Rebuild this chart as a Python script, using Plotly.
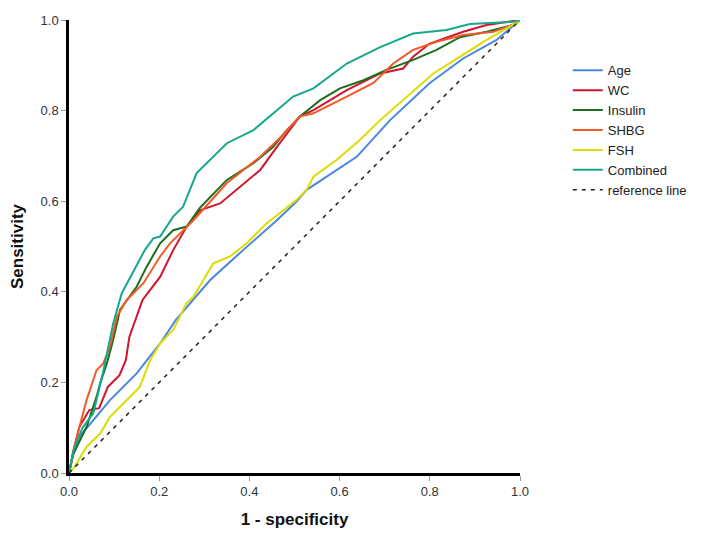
import plotly.graph_objects as go

# ROC curve points (1 - specificity, sensitivity)
age_x = [0.0, 0.008, 0.023, 0.091, 0.15, 0.202, 0.237, 0.313, 0.386, 0.461, 0.505, 0.527, 0.638, 0.712, 0.8, 0.874, 0.948, 1.0]
age_y = [0.0, 0.036, 0.08, 0.161, 0.22, 0.286, 0.338, 0.426, 0.492, 0.558, 0.6, 0.625, 0.698, 0.779, 0.861, 0.915, 0.956, 1.0]

wc_x = [0.0, 0.01, 0.023, 0.045, 0.067, 0.086, 0.112, 0.126, 0.134, 0.149, 0.163, 0.202, 0.231, 0.261, 0.29, 0.335, 0.379, 0.424, 0.461, 0.512, 0.542, 0.616, 0.69, 0.741, 0.763, 0.8, 0.874, 0.926, 1.0]
wc_y = [0.0, 0.05, 0.102, 0.139, 0.143, 0.19, 0.216, 0.249, 0.301, 0.345, 0.382, 0.433, 0.492, 0.544, 0.58, 0.595, 0.632, 0.669, 0.72, 0.787, 0.801, 0.845, 0.882, 0.893, 0.919, 0.948, 0.974, 0.989, 1.0]

insulin_x = [0.0, 0.01, 0.039, 0.061, 0.069, 0.084, 0.098, 0.113, 0.15, 0.172, 0.202, 0.231, 0.261, 0.29, 0.35, 0.409, 0.453, 0.483, 0.512, 0.557, 0.601, 0.653, 0.704, 0.763, 0.815, 0.867, 0.926, 0.985, 1.0]
insulin_y = [0.0, 0.043, 0.102, 0.168, 0.198, 0.242, 0.294, 0.36, 0.411, 0.455, 0.507, 0.536, 0.544, 0.585, 0.647, 0.684, 0.72, 0.757, 0.787, 0.823, 0.849, 0.867, 0.89, 0.912, 0.934, 0.962, 0.974, 0.989, 1.0]

shbg_x = [0.0, 0.01, 0.024, 0.039, 0.061, 0.076, 0.091, 0.106, 0.128, 0.165, 0.202, 0.224, 0.276, 0.35, 0.424, 0.468, 0.512, 0.542, 0.616, 0.675, 0.719, 0.763, 0.815, 0.874, 0.941, 0.985, 1.0]
shbg_y = [0.0, 0.05, 0.105, 0.161, 0.227, 0.242, 0.279, 0.345, 0.382, 0.419, 0.478, 0.507, 0.558, 0.64, 0.698, 0.74, 0.787, 0.794, 0.831, 0.861, 0.904, 0.934, 0.952, 0.967, 0.974, 0.99, 1.0]

fsh_x = [0.0, 0.01, 0.039, 0.069, 0.091, 0.128, 0.157, 0.18, 0.202, 0.231, 0.261, 0.276, 0.32, 0.357, 0.394, 0.438, 0.505, 0.527, 0.542, 0.593, 0.645, 0.69, 0.749, 0.808, 0.867, 0.926, 0.985, 1.0]
fsh_y = [0.0, 0.01, 0.058, 0.087, 0.124, 0.161, 0.19, 0.249, 0.286, 0.316, 0.375, 0.389, 0.463, 0.478, 0.507, 0.551, 0.603, 0.625, 0.654, 0.691, 0.735, 0.779, 0.831, 0.882, 0.919, 0.956, 0.99, 1.0]

comb_x = [0.0, 0.01, 0.03, 0.054, 0.075, 0.098, 0.117, 0.168, 0.187, 0.202, 0.231, 0.253, 0.283, 0.35, 0.409, 0.453, 0.497, 0.542, 0.616, 0.69, 0.763, 0.837, 0.889, 0.985, 1.0]
comb_y = [0.0, 0.05, 0.1, 0.132, 0.22, 0.33, 0.397, 0.492, 0.518, 0.522, 0.566, 0.588, 0.662, 0.728, 0.757, 0.794, 0.831, 0.849, 0.904, 0.94, 0.97, 0.978, 0.991, 0.996, 1.0]

ref_x = [0.0, 1.0]
ref_y = [0.0, 1.0]

series = [
    ("Age", age_x, age_y, "#4A86E0"),
    ("WC", wc_x, wc_y, "#D2152E"),
    ("Insulin", insulin_x, insulin_y, "#1E6E1E"),
    ("SHBG", shbg_x, shbg_y, "#F05A28"),
    ("FSH", fsh_x, fsh_y, "#DCDC00"),
    ("Combined", comb_x, comb_y, "#17A88C"),
]

fig = go.Figure()
for name, xs, ys, col in series:
    fig.add_trace(go.Scatter(x=xs, y=ys, mode="lines", name=name,
                             line=dict(color=col, width=2)))
fig.add_trace(go.Scatter(x=ref_x, y=ref_y, mode="lines", name="reference line",
                         line=dict(color="#222222", width=1.5, dash="4px,5px")))

axis_common = dict(
    range=[0, 1], showgrid=False, zeroline=False, automargin=False,
    showline=True, linecolor="black", linewidth=2.5,
    ticks="outside", ticklen=5, tickcolor="#999999", tickwidth=1,
    tickvals=[0, 0.2, 0.4, 0.6, 0.8, 1.0],
    ticktext=["0.0", "0.2", "0.4", "0.6", "0.8", "1.0"],
    tickfont=dict(family="Arial, Liberation Sans", size=13, color="#333333"),
)

fig.update_layout(
    width=708, height=543,
    margin=dict(l=61, r=196, t=12, b=78, autoexpand=False),
    paper_bgcolor="white", plot_bgcolor="white",
    showlegend=True,
    legend=dict(x=1.106, y=0.922, xanchor="left", yanchor="top",
                font=dict(family="Arial, Liberation Sans", size=13, color="#222222"),
                itemwidth=30, tracegroupgap=0, bgcolor="rgba(0,0,0,0)"),
    xaxis=dict(**axis_common,
               title=dict(text="<b>1 - specificity</b>",
                          font=dict(family="Arial, Liberation Sans", size=17, color="#111111"))),
    yaxis=dict(**axis_common,
               title=dict(text="<b>Sensitivity</b>",
                          font=dict(family="Arial, Liberation Sans", size=17, color="#111111"))),
)

fig.write_html("out.html")
